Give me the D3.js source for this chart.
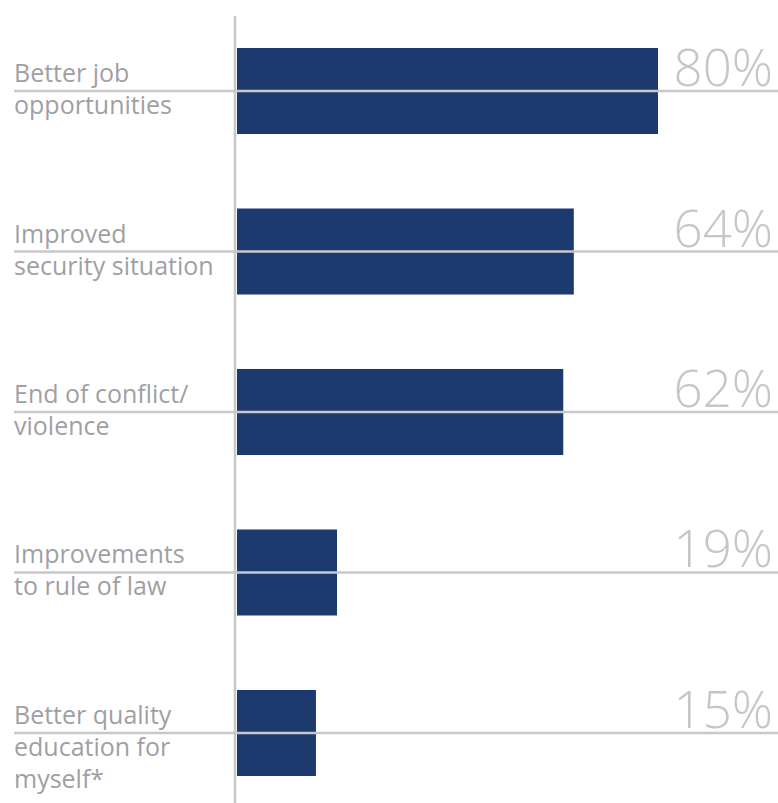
<!DOCTYPE html>
<html>
<head>
<meta charset="utf-8">
<script src="https://cdn.jsdelivr.net/npm/d3@7"></script>
<style>
  body { margin: 0; background: #fff; }
  .cat-label { font-family: "Open Sans", sans-serif; font-size: 25px; fill: #a0a0a4; }
  .val-label { font-family: "Open Sans", sans-serif; font-size: 51px; font-weight: 300; fill: #c6c6c9; }
</style>
</head>
<body>
<div id="chart"></div>
<script>

// reasons, each split into display lines with "|"
var categories = [
  'Better job|opportunities',
  'Improved|security situation',
  'End of conflict/|violence',
  'Improvements|to rule of law',
  'Better quality|education for|myself*'
]
var values = [80, 64, 62, 19, 15]
var valueLabels = ['80%', '64%', '62%', '19%', '15%']

var barColor = '#1c3a6e'
var lineColor = '#c8c8cb'

var width = 778, height = 803

var svg = d3.select('#chart').append('svg')
  .attr('width', width)
  .attr('height', height)

var xScale = d3.scaleLinear()
  .domain([0, 80])
  .range([237, 658])

var yScale = d3.scaleBand()
  .domain(categories)
  .range([48, 776])
  .paddingInner(0.464)
  .paddingOuter(0)

var data = categories.map(function(c, i) {
  return { cat: c, value: values[i], label: valueLabels[i] }
})

// bars
svg.selectAll('.bar')
  .data(data)
  .enter().append('rect')
    .attr('class', 'bar')
    .attr('x', xScale(0))
    .attr('y', function(d) { return yScale(d.cat) })
    .attr('height', yScale.bandwidth())
    .attr('width', function(d) { return xScale(d.value) - xScale(0) })
    .style('fill', barColor)

// vertical axis line
svg.append('line')
  .attr('x1', 235).attr('x2', 235)
  .attr('y1', 16).attr('y2', height)
  .style('stroke', lineColor)
  .style('stroke-width', 2.5)

// horizontal rule through the middle of each bar
svg.selectAll('.rule')
  .data(data)
  .enter().append('line')
    .attr('class', 'rule')
    .attr('x1', 14).attr('x2', width)
    .attr('y1', function(d) { return yScale(d.cat) + yScale.bandwidth() / 2 })
    .attr('y2', function(d) { return yScale(d.cat) + yScale.bandwidth() / 2 })
    .style('stroke', lineColor)
    .style('stroke-width', 2.5)

// category labels
var labels = svg.selectAll('.cat-label')
  .data(data)
  .enter().append('text')
    .attr('class', 'cat-label')
    .attr('x', 14)
    .attr('y', function(d) { return yScale(d.cat) + yScale.bandwidth() / 2 - 9 })

labels.selectAll('tspan')
  .data(function(d) { return d.cat.split('|') })
  .enter().append('tspan')
    .attr('x', 14)
    .attr('dy', function(d, i) { return i == 0 ? 0 : 32 })
    .text(function(d) { return d })

// value labels
svg.selectAll('.val-label')
  .data(data)
  .enter().append('text')
    .attr('class', 'val-label')
    .attr('x', 773)
    .attr('y', function(d) { return yScale(d.cat) + yScale.bandwidth() / 2 - 5 })
    .style('text-anchor', 'end')
    .text(function(d) { return d.label })

</script>
</body>
</html>
